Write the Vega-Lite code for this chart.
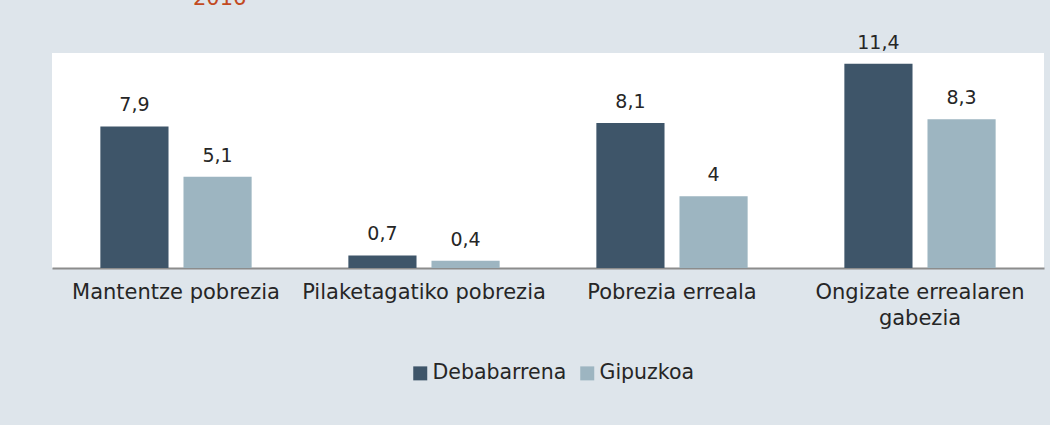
{
  "$schema": "https://vega.github.io/schema/vega-lite/v6.json",
  "width": 992,
  "height": 215,
  "autosize": {"type": "none"},
  "padding": {"left": 52, "top": 53, "right": 6, "bottom": 157},
  "background": "#dee5eb",
  "title": {
    "text": "2016",
    "color": "#c24a22",
    "fontSize": 21,
    "font": "DejaVu Sans",
    "fontWeight": "normal",
    "anchor": "start",
    "frame": "group",
    "baseline": "alphabetic",
    "offset": 8,
    "dx": 141
  },
  "data": {
    "values": [
      {"category": "Mantentze pobrezia", "order": 1, "area": "Debabarrena", "value": 7.9},
      {"category": "Mantentze pobrezia", "order": 1, "area": "Gipuzkoa", "value": 5.1},
      {"category": "Pilaketagatiko pobrezia", "order": 2, "area": "Debabarrena", "value": 0.7},
      {"category": "Pilaketagatiko pobrezia", "order": 2, "area": "Gipuzkoa", "value": 0.4},
      {"category": "Pobrezia erreala", "order": 3, "area": "Debabarrena", "value": 8.1},
      {"category": "Pobrezia erreala", "order": 3, "area": "Gipuzkoa", "value": 4},
      {"category": "Ongizate errealaren|gabezia", "order": 4, "area": "Debabarrena", "value": 11.4},
      {"category": "Ongizate errealaren|gabezia", "order": 4, "area": "Gipuzkoa", "value": 8.3}
    ]
  },
  "encoding": {
    "x": {
      "field": "category",
      "type": "nominal",
      "sort": {"field": "order"},
      "scale": {"paddingInner": 0.39, "paddingOuter": 0.195},
      "axis": {
        "title": null,
        "labelAngle": 0,
        "labelExpr": "split(datum.label, '|')",
        "labelFont": "DejaVu Sans",
        "labelFontSize": 21,
        "labelLimit": 400,
        "labelColor": "#262626",
        "labelPadding": 13,
        "labelLineHeight": 26,
        "labelBaseline": "top",
        "ticks": false,
        "domainColor": "#8c8c8c",
        "domainWidth": 2
      }
    },
    "xOffset": {
      "field": "area",
      "type": "nominal",
      "scale": {"paddingInner": 0.18, "paddingOuter": 0}
    },
    "y": {
      "field": "value",
      "type": "quantitative",
      "scale": {"domain": [0, 12], "nice": false},
      "axis": null
    }
  },
  "layer": [
    {
      "mark": {"type": "bar"},
      "encoding": {
        "color": {
          "field": "area",
          "type": "nominal",
          "scale": {"domain": ["Debabarrena", "Gipuzkoa"], "range": ["#3e5569", "#9db5c1"]},
          "legend": {
            "title": null,
            "orient": "none",
            "direction": "horizontal",
            "legendX": 358,
            "legendY": 310,
            "symbolType": "square",
            "symbolSize": 196,
            "symbolStrokeWidth": 0,
            "labelFont": "DejaVu Sans",
            "labelFontSize": 20.5,
            "labelColor": "#262626",
            "labelOffset": 2,
            "columnPadding": 10
          }
        }
      }
    },
    {
      "mark": {"type": "text", "baseline": "alphabetic", "dy": -15, "font": "DejaVu Sans", "fontSize": 19, "color": "#262626"},
      "encoding": {
        "text": {"field": "value", "type": "quantitative", "format": ".3~r"}
      }
    }
  ],
  "config": {
    "locale": {
      "number": {"decimal": ",", "thousands": ".", "grouping": [3], "currency": ["", " €"]}
    },
    "view": {"fill": "white", "stroke": null}
  }
}
